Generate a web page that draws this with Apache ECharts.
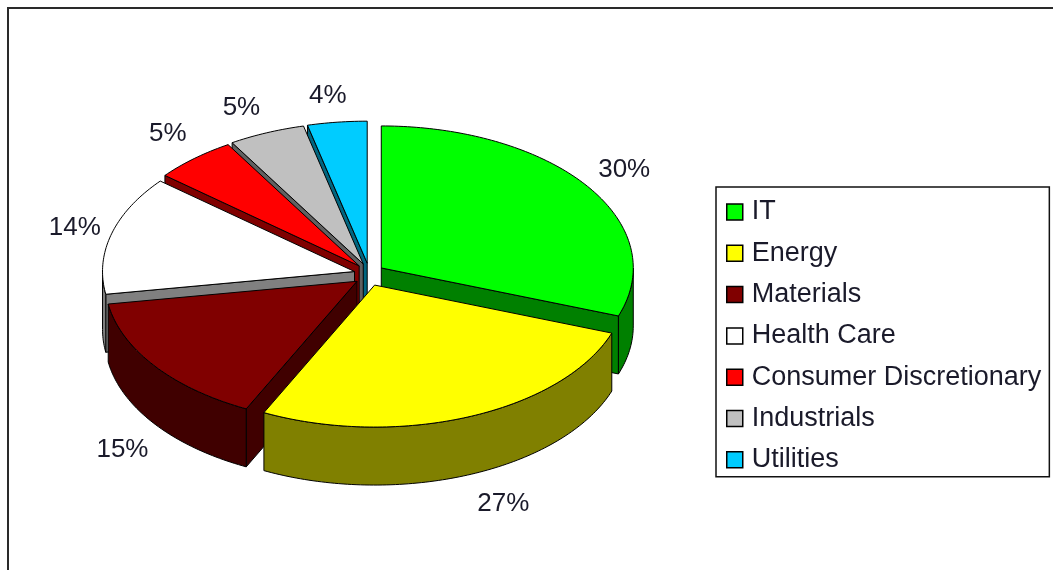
<!DOCTYPE html>
<html>
<head>
<meta charset="utf-8">
<style>html,body{margin:0;padding:0;background:#fff;overflow:hidden}#c{width:1053px;height:570px;filter:blur(0.4px)}</style>
<script src="https://cdn.jsdelivr.net/npm/echarts@6/dist/echarts.min.js"></script>
</head>
<body>
<div id="c"></div>
<script>
// Data
const categories = ['IT','Energy','Materials','Health Care','Consumer Discretionary','Industrials','Utilities'];
const shares = [30.49,26.75,15.2,13.55,5.3,4.9,3.81];
const colors = ['#00FF00','#FFFF00','#800000','#FFFFFF','#FF0000','#C0C0C0','#00CCFF'];
const wallColors = ['#008000','#808000','#400000','#808080','#800000','#606060','#006680'];

// Layout of the tilted, exploded pie
const centerX = 369, centerY = 274.5, radiusX = 252, radiusY = 142, depth = 58;
const explodeX = 15, explodeY = 11.4, labelGapX = 45, labelGapY = 32;
const labelNudge = [[0,2],[17,0],[4,7],[7,2],[3,-1],[-8,5],[-4,5]];
const paintOrder = [6,5,4,3,0,2,1]; // back to front
const inkColor = '#000', textColor = '#1a1a2a';

const total = shares.reduce(function(a,b){return a+b;},0);
const rad = function(d){return d*Math.PI/180;};

function sliceGeometry(i, value){
  let before = 0;
  for (let k=0;k<i;k++) before += shares[k];
  const a0 = before/total*360, a1 = (before+value)/total*360, mid=(a0+a1)/2;
  return {
    a0:a0, a1:a1, mid:mid,
    x: centerX + explodeX*Math.sin(rad(mid)),
    y: centerY - explodeY*Math.cos(rad(mid))
  };
}
function rim(g, t, drop){
  return [g.x + radiusX*Math.sin(rad(t)), g.y - radiusY*Math.cos(rad(t)) + (drop||0)];
}
function arc(g, from, to, drop){
  const pts=[], n=Math.max(2,Math.ceil(Math.abs(to-from)));
  for(let k=0;k<=n;k++) pts.push(rim(g, from+(to-from)*k/n, drop));
  return pts;
}
function makeRender(i){
  return function(params, api){
    const value = api.value(0);
    const g = sliceGeometry(i, value);
    const apex=[g.x,g.y], apexLow=[g.x,g.y+depth];
    const lineStyle={stroke:inkColor,lineWidth:1,lineJoin:'round'};
    const wall=Object.assign({fill:wallColors[i]},lineStyle);
    const kids=[];
    // only the cut faces turned toward the viewer are drawn
    [[g.a0,-90],[g.a1,90]].forEach(function(c){
      if(Math.cos(rad(c[0]+c[1]))<-1e-6){
        kids.push({type:'polygon',shape:{points:[apex,rim(g,c[0]),rim(g,c[0],depth),apexLow]},style:wall});
      }
    });
    const w0=Math.max(g.a0,90), w1=Math.min(g.a1,270);
    if(w1>w0){
      kids.push({type:'polygon',shape:{points:arc(g,w0,w1,0).concat(arc(g,w1,w0,depth))},style:wall});
    }
    kids.push({type:'polygon',shape:{points:[apex].concat(arc(g,g.a0,g.a1,0))},
      style:Object.assign({fill:colors[i]},lineStyle)});
    const m=rad(g.mid), front=Math.cos(m)<0;
    kids.push({type:'text',silent:true,z2:100,style:{
      text:Math.round(value)+'%',
      x:g.x+(radiusX+labelGapX)*Math.sin(m)+labelNudge[i][0],
      y:g.y-(radiusY+labelGapY)*Math.cos(m)+(front?depth:0)+labelNudge[i][1],
      align:'center',verticalAlign:'middle',
      font:'26px "Liberation Sans"',fill:textColor
    }});
    return {type:'group',children:kids};
  };
}

const chart = echarts.init(document.getElementById('c'),null,{renderer:'canvas'});
chart.setOption({
  animation:false,
  backgroundColor:'#fff',
  graphic:[{type:'polyline',silent:true,shape:{points:[[8,570],[8,8],[1053,8]]},
    style:{stroke:'#2a2a2a',lineWidth:2,fill:null}}],
  legend:{
    orient:'vertical',left:716,top:187,
    padding:[10,8,2,10],
    backgroundColor:'#fff',borderColor:'#111',borderWidth:1.5,
    icon:'rect',itemWidth:16,itemHeight:16,itemGap:11.3,
    data:categories,
    itemStyle:{borderColor:'#000',borderWidth:1.5},
    textStyle:{fontFamily:'Liberation Sans',fontSize:27,color:textColor,lineHeight:30,padding:[0,0,0,4]}
  },
  series:categories.map(function(name,i){
    return {
      type:'custom',name:name,coordinateSystem:'none',
      z:2+paintOrder.indexOf(i),
      silent:true,
      itemStyle:{color:colors[i]},
      data:[[shares[i]]],
      renderItem:makeRender(i)
    };
  })
});
</script>
</body>
</html>
